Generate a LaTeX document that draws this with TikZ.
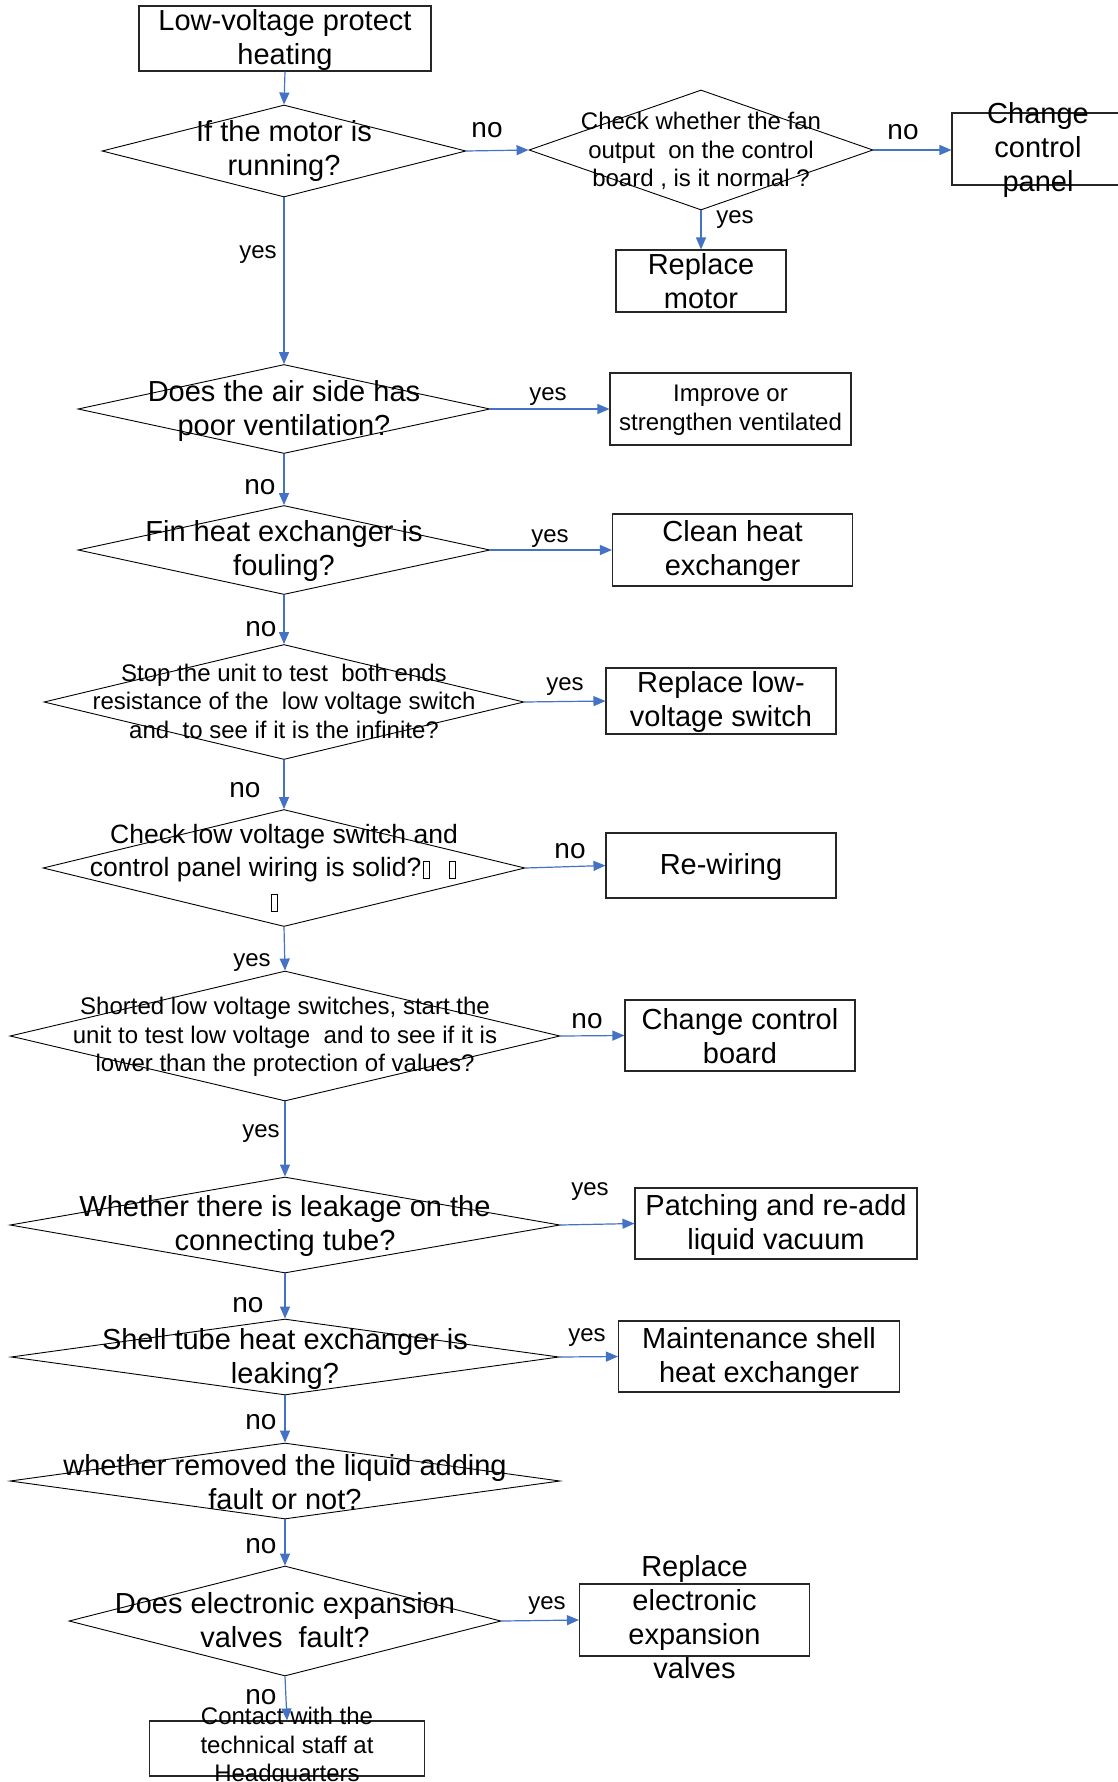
\documentclass[tikz,border=0pt]{standalone}
\usepackage{fontspec}
\setmainfont{Liberation Sans}
\usetikzlibrary{shapes.geometric,arrows.meta}
\definecolor{arrowblue}{HTML}{4472C4}
\newcommand\tofubox{\hspace{2pt}{\setlength{\fboxsep}{0pt}\setlength{\fboxrule}{1pt}\raisebox{-1pt}{\fbox{\rule{0pt}{16pt}\hspace{5pt}}}}\hspace{2pt}}
\begin{document}
\begin{tikzpicture}[x=1pt,y=-1pt,
  box/.style={draw=black!85, line width=1.1pt, inner sep=0pt, rectangle},
  dia/.style={diamond, draw=black, line width=0.9pt, inner sep=0pt},
  big/.style={font=\fontsize{29}{34}\selectfont, align=center, inner sep=0pt},
  small/.style={font=\fontsize{24}{28.5}\selectfont, align=center, inner sep=0pt},
  mid/.style={font=\fontsize{26.5}{33}\selectfont, align=center, inner sep=0pt},
  yeslab/.style={font=\fontsize{24}{28}\selectfont, inner sep=0pt},
  nolab/.style={font=\fontsize{28}{32}\selectfont, inner sep=0pt},
  arr/.style={draw=arrowblue, line width=1.2pt, -{Triangle[length=12pt,width=10pt]}}
]
\useasboundingbox (0,0) rectangle (1118,1782);
\fill[white] (0,0) rectangle (1118,1782);
\clip (0,0) rectangle (1118,1782);

% ---------- shapes ----------
\node[box, minimum width=292, minimum height=65] (start) at (285,38.5) {};
\node[dia, minimum width=364, minimum height=92] (q1) at (284,151) {};
\node[dia, minimum width=344, minimum height=120] (q2) at (701,150) {};
\node[box, minimum width=220, minimum height=72] (cp) at (1062,149) {};
\node[box, minimum width=170, minimum height=62] (rm) at (701,281) {};
\node[dia, minimum width=412, minimum height=89] (q3) at (284,409) {};
\node[box, minimum width=241, minimum height=72] (imp) at (730.5,409) {};
\node[dia, minimum width=412, minimum height=89] (q4) at (284,550) {};
\node[box, minimum width=240, minimum height=72] (clean) at (732.5,550) {};
\node[dia, minimum width=480, minimum height=115] (q5) at (284,702) {};
\node[box, minimum width=230, minimum height=66] (rlv) at (721,701) {};
\node[dia, minimum width=482, minimum height=117] (q6) at (284,868) {};
\node[box, minimum width=230, minimum height=65] (rw) at (721,865.5) {};
\node[dia, minimum width=550, minimum height=130] (q7) at (285,1036) {};
\node[box, minimum width=230, minimum height=71] (ccb) at (740,1035.5) {};
\node[dia, minimum width=550, minimum height=96] (q8) at (285,1225) {};
\node[box, minimum width=282, minimum height=71] (patch) at (776,1223.5) {};
\node[dia, minimum width=548, minimum height=76] (q9) at (285,1357) {};
\node[box, minimum width=281, minimum height=71] (maint) at (759,1356.5) {};
\node[dia, minimum width=550, minimum height=76] (q10) at (285,1481) {};
\node[dia, minimum width=432, minimum height=110] (q11) at (285,1621) {};
\node[box, minimum width=230, minimum height=72] (ree) at (694.5,1620) {};
\node[box, minimum width=275, minimum height=55] (contact) at (287,1748.5) {};

% ---------- texts ----------
\node[big] (tstart) at (285,40) {Low-voltage protect\\heating};
\node[big] (tq1) at (284,151) {If the motor is\\running?};
\node[small] (tq2) at (701,151) {Check whether the fan\\output\ \ on the control\\board , is it normal ?};
\node[big] (tcp) at (1038,150.5) {Change\\control\\panel};
\node[big] (trm) at (701,281) {Replace\\motor};
\node[big] (tq3) at (284,410.5) {Does the air side has\\poor ventilation?};
\node[small] (timp) at (730.5,410) {Improve or\\strengthen ventilated};
\node[big] (tq4) at (284,551) {Fin heat exchanger is\\fouling?};
\node[big] (tclean) at (732.5,551) {Clean heat\\exchanger};
\node[small] (tq5) at (284,701) {Stop the unit to test\ \ both ends\\resistance of the\ \ low voltage switch\\and\ \ to see if it is the infinite?};
\node[big] (trlv) at (721,702) {Replace low-\\voltage switch};
\node[mid] (tq6) at (284,868) {Check low voltage switch and\\control panel wiring is solid?\tofubox\ \ \tofubox\rule{20pt}{0pt}\\\tofubox\rule{20pt}{0pt}};
\node[big] (trw) at (721,867) {Re-wiring};
\node[small] (tq7) at (285,1037) {Shorted low voltage switches, start the\\unit to test low voltage\ \ and to see if it is\\lower than the protection of values?};
\node[big] (tccb) at (740,1036) {Change control\\board};
\node[big] (tq8) at (285,1226) {Whether there is leakage on the\\connecting tube?};
\node[big] (tpatch) at (776,1225) {Patching and re-add\\liquid vacuum};
\node[big] (tq9) at (285,1358.5) {Shell tube heat exchanger is\\leaking?};
\node[big] (tmaint) at (759,1357.5) {Maintenance shell\\heat exchanger};
\node[big] (tq10) at (285,1482) {whether removed the liquid adding\\fault or not?};
\node[big] (tq11) at (285,1620) {Does electronic expansion\\valves\ \ fault?};
\node[big] (tree) at (694.5,1617) {Replace\\electronic\\expansion\\valves};
\node[small] (tcontact) at (287,1747) {Contact with the\\technical staff at\\Headquarters};

% ---------- connectors ----------
\draw[arr] (start.south) -- (q1.north);
\draw[arr] (q1.east) -- (q2.west);
\draw[arr] (q2.east) -- (cp.west |- q2.east);
\draw[arr] (q2.south) -- (rm.north);
\draw[arr] (q1.south) -- (q3.north);
\draw[arr] (q3.east) -- (imp.west);
\draw[arr] (q3.south) -- (q4.north);
\draw[arr] (q4.east) -- (clean.west);
\draw[arr] (q4.south) -- (q5.north);
\draw[arr] (q5.east) -- (rlv.west);
\draw[arr] (q5.south) -- (q6.north);
\draw[arr] (q6.east) -- (rw.west);
\draw[arr] (q6.south) -- (q7.north);
\draw[arr] (q7.east) -- (ccb.west);
\draw[arr] (q7.south) -- (q8.north);
\draw[arr] (q8.east) -- (patch.west);
\draw[arr] (q8.south) -- (q9.north);
\draw[arr] (q9.east) -- (maint.west);
\draw[arr] (q9.south) -- (q10.north);
\draw[arr] (q10.south) -- (q11.north);
\draw[arr] (q11.east) -- (ree.west);
\draw[arr] (q11.south) -- (contact.north);

% ---------- labels ----------
\node[nolab] (l1) at (487,130) {no};
\node[nolab] (l2) at (903,132) {no};
\node[yeslab] (l3) at (735,219.5) {yes};
\node[yeslab] (l4) at (258,254.5) {yes};
\node[yeslab] (l5) at (548,397) {yes};
\node[nolab] (l6) at (260,487) {no};
\node[yeslab] (l7) at (550,538.5) {yes};
\node[nolab] (l8) at (261,629) {no};
\node[yeslab] (l9) at (565,687) {yes};
\node[nolab] (l10) at (245,790) {no};
\node[nolab] (l11) at (570,851) {no};
\node[yeslab] (l12) at (252,962.5) {yes};
\node[nolab] (l13) at (587,1021) {no};
\node[yeslab] (l14) at (261,1134) {yes};
\node[yeslab] (l15) at (590,1192) {yes};
\node[nolab] (l16) at (248,1305) {no};
\node[yeslab] (l17) at (587,1337.5) {yes};
\node[nolab] (l18) at (261,1422) {no};
\node[nolab] (l19) at (261,1546) {no};
\node[yeslab] (l20) at (547,1605.5) {yes};
\node[nolab] (l21) at (261,1697) {no};
\end{tikzpicture}
\end{document}
